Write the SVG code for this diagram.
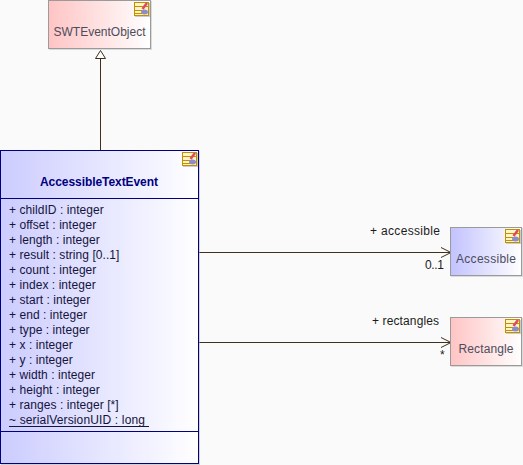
<svg xmlns="http://www.w3.org/2000/svg" width="523" height="465" viewBox="0 0 523 465">
<style>
text{font-family:"Liberation Sans",Arial,sans-serif;font-size:12px;fill:#1c1c1c}
.attr{fill:#14143c;letter-spacing:.06px}
.name{fill:#4c4c5c;text-anchor:middle}
.line{fill:none;stroke:#3f2f1c;stroke-width:1}
</style>
<defs>
<linearGradient id="red"><stop offset="0" stop-color="#ffc4c4"/><stop offset="1" stop-color="#fff"/></linearGradient>
<linearGradient id="blue"><stop offset="0" stop-color="#c2c2ff"/><stop offset="1" stop-color="#fff"/></linearGradient>
<linearGradient id="main"><stop offset="0" stop-color="#ccccff"/><stop offset="1" stop-color="#fff"/></linearGradient>
<g id="icon">
<rect x="1" y="1" width="15" height="14" fill="#ccc"/>
<rect x="0.500" y="0.500" width="14" height="13" fill="#fff4c8" stroke="#c09000"/>
<path d="M1 4.500H14M1 8.500H8M1 11.500H8" stroke="#c09000" fill="none"/>
<path d="M8.500 7L13 1" stroke="#e04860" stroke-width="2.500"/>
<ellipse cx="10.500" cy="10" rx="3.500" ry="2.500" fill="#8c8cc8"/>
</g>
</defs>
<rect width="523" height="465" fill="#fafafa"/>
<g id="connectors">
<path class="line" d="M100.500 150V58"/>
<path d="M100.500 50.500L95.500 58.500H105.500Z" fill="#fff" stroke="#3f2f1c"/>
<path class="line" d="M199 252.500H451M441 247.500L451 252.500L441 257.500"/>
<path class="line" d="M199 342.500H451M441 337.500L451 342.500L441 347.500"/>
<text x="370" y="235" textLength="70">+ accessible</text>
<text x="425" y="269" textLength="19">0..1</text>
<text x="372" y="325" textLength="67">+ rectangles</text>
<text x="440" y="359">*</text>
</g>
<g id="SWTEventObject">
<rect x="49" y="1" width="103" height="49" fill="#bbb" opacity=".5"/>
<rect x="48.500" y="0.500" width="102" height="48" fill="url(#red)" stroke="#9a9a9a"/>
<use href="#icon" x="134" y="2"/>
<text class="name" x="99.500" y="36" textLength="92">SWTEventObject</text>
</g>
<g id="AccessibleTextEvent">
<rect x="1" y="151" width="199" height="314" fill="#aaa" opacity=".5"/>
<rect x="0.500" y="150.500" width="198" height="313" fill="url(#main)" stroke="#000080"/>
<path d="M0 198.500H198M0 431.500H198" stroke="#000080" fill="none"/>
<use href="#icon" x="182" y="152"/>
<text x="99" y="186" text-anchor="middle" font-weight="bold" style="fill:#000080" textLength="118">AccessibleTextEvent</text>
<g class="attrs">
<text class="attr" x="9" y="214">+ childID : integer</text>
<text class="attr" x="9" y="229">+ offset : integer</text>
<text class="attr" x="9" y="244">+ length : integer</text>
<text class="attr" x="9" y="259">+ result : string [0..1]</text>
<text class="attr" x="9" y="274">+ count : integer</text>
<text class="attr" x="9" y="289">+ index : integer</text>
<text class="attr" x="9" y="304">+ start : integer</text>
<text class="attr" x="9" y="319">+ end : integer</text>
<text class="attr" x="9" y="334">+ type : integer</text>
<text class="attr" x="9" y="349">+ x : integer</text>
<text class="attr" x="9" y="364">+ y : integer</text>
<text class="attr" x="9" y="379">+ width : integer</text>
<text class="attr" x="9" y="394">+ height : integer</text>
<text class="attr" x="9" y="409">+ ranges : integer [*]</text>
<text class="attr" x="9" y="424" textLength="136">~ serialVersionUID : long</text>
</g>
<path d="M9 426.500H149" stroke="#14143c" fill="none"/>
</g>
<g id="Accessible">
<rect x="451" y="228" width="72" height="49" fill="#bbb" opacity=".5"/>
<rect x="450.500" y="227.500" width="71" height="48" fill="url(#blue)" stroke="#9a9a9a"/>
<use href="#icon" x="505" y="229"/>
<text class="name" x="486" y="263" textLength="60">Accessible</text>
</g>
<g id="Rectangle">
<rect x="451" y="318" width="72" height="49" fill="#bbb" opacity=".5"/>
<rect x="450.500" y="317.500" width="71" height="48" fill="url(#red)" stroke="#9a9a9a"/>
<use href="#icon" x="505" y="319"/>
<text class="name" x="486" y="353" textLength="55">Rectangle</text>
</g>
</svg>
